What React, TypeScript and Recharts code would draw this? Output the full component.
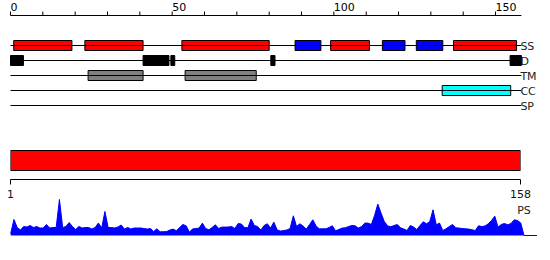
import React from "react";
import { ComposedChart, BarChart, Bar, AreaChart, Area, Scatter, XAxis, YAxis, ReferenceLine, ReferenceArea } from "recharts";

// sequence + feature tracks
const seqLength = 158;
const trackNames = ["SS", "D", "TM", "CC", "SP"];
const trackRows = [2, 3, 4, 5, 6];

const helixSegments = [[1, 19], [23, 41], [53, 80], [99, 111], [137, 156.5]];
const strandSegments = [[88, 96], [115, 122], [125.5, 133.7]];
const disorderSegments = [[0, 4], [41, 49], [49.6, 50.8], [80.5, 81.8], [154.5, 158]];
const tmSegments = [[24, 41], [54, 76]];
const ccSegments = [[133.5, 154.7]];

const topTicks = [0, 10, 20, 30, 40, 50, 60, 70, 80, 90, 100, 110, 120, 130, 140, 150];
const topLabels = [0, 50, 100, 150];
const seqTicks = [1, 158];

// PS profile, one value per residue
const psValues = [
  2, 16, 8, 5.5, 9, 8.5, 10, 8, 9, 7.5,
  7.5, 11, 7.5, 8, 8, 36, 8, 9, 13, 9,
  6, 9, 7.5, 8, 8, 6.5, 8, 12.5, 7.5, 24,
  8, 8, 7.5, 8.5, 10.5, 6.5, 8, 6.5, 7.5, 7.5,
  7.5, 7, 6.4, 7, 4, 6.7, 3.7, 3.8, 4, 5.5,
  6.4, 4.7, 8, 11, 9.7, 3.4, 6.5, 7, 7.4, 12.4,
  7, 5.7, 8, 10.7, 7, 8.4, 8.4, 8.5, 9, 7,
  12, 11.5, 8, 7.7, 16.4, 10, 9, 5.4, 10, 11.7,
  7.4, 13.4, 5.7, 4.4, 5, 5.5, 7, 19.7, 9, 11.7,
  9.5, 6.4, 11, 15.7, 9.5, 6.7, 6.7, 6.7, 8, 9.7,
  4.7, 6, 7.4, 7.7, 9, 10, 9.7, 7.4, 9, 12.4,
  12.4, 11, 20, 31.4, 22.4, 14, 9.7, 8.7, 10, 11,
  7.7, 6.5, 5, 10, 8.5, 6, 10, 13.7, 11.7, 14,
  25.7, 10.7, 12.4, 5, 6.7, 9, 11, 7.7, 7.4, 7,
  6.7, 6.4, 5.7, 5, 9.7, 9, 9.5, 11.7, 15, 19.4,
  8.4, 11, 12, 10.7, 12, 15.7, 15, 12.5,
];
const psTail = [159, 163];

const tracks = [
  { row: 2, segs: helixSegments, color: "#ff0000" },
  { row: 2, segs: strandSegments, color: "#0000ff" },
  { row: 3, segs: disorderSegments, color: "#000000" },
  { row: 4, segs: tmSegments, color: "#808080" },
  { row: 5, segs: ccSegments, color: "#00ffff" },
];

const font = "'DejaVu Sans', sans-serif";

const TopTick = (props: any) => {
  const { x, y, payload } = props;
  if (!topLabels.includes(payload.value)) return <g />;
  return (
    <text x={x} y={y} fill="#000" fontSize={11} fontFamily={font} textAnchor="start">
      {payload.value}
    </text>
  );
};

const TrackTick = (props: any) => {
  const { x, y, payload } = props;
  const idx = trackRows.indexOf(payload.value);
  return (
    <text x={x - 1} y={y} dy={4} fill="#222" fontSize={11} fontFamily={font} textAnchor="start">
      {trackNames[idx]}
    </text>
  );
};

export default function App() {
  const rowData = trackNames.map((n, i) => ({ name: n, x: 0, row: trackRows[i] }));
  const seqData = [{ name: "seq", span: [1, seqLength] }];
  const psData = psValues
    .map((v, i) => ({ pos: i + 1, ps: v }))
    .concat(psTail.map((p) => ({ pos: p, ps: 0 })));

  return (
    <div style={{ position: "absolute", left: 0, top: 0, width: 550, height: 260, background: "#fff", fontFamily: font }}>
      <div style={{ position: "absolute", left: 0, top: 0 }}>
        <ComposedChart width={550} height={121} data={rowData} margin={{ top: 0.5, right: 0, left: 10.5, bottom: 0.5 }}>
          <XAxis
            orientation="top"
            type="number"
            dataKey="x"
            domain={[0, seqLength]}
            ticks={topTicks}
            interval={0}
            allowDataOverflow
            height={15}
            tickSize={4}
            tickMargin={1}
            stroke="#000"
            tick={<TopTick />}
          />
          <YAxis
            orientation="right"
            type="number"
            dataKey="row"
            domain={[0, 7]}
            allowDataOverflow
            reversed
            ticks={trackRows}
            interval={0}
            width={28.6}
            axisLine={false}
            tickLine={false}
            tickSize={0}
            tickMargin={0}
            tick={<TrackTick />}
          />
          <Scatter dataKey="row" fill="none" shape={() => <g />} isAnimationActive={false} />
          {trackRows.map((r) => (
            <ReferenceLine key={"l" + r} y={r} stroke="#000" strokeWidth={1} ifOverflow="visible" />
          ))}
          {tracks.map((t, ti) =>
            t.segs.map((s, si) => (
              <ReferenceArea
                key={ti + "-" + si}
                x1={s[0]}
                x2={s[1]}
                y1={t.row - 1 / 3}
                y2={t.row + 1 / 3}
                fill={t.color}
                fillOpacity={1}
                stroke="#000"
                strokeWidth={1}
                strokeOpacity={1}
                ifOverflow="visible"
              />
            ))
          )}
        </ComposedChart>
      </div>

      <div style={{ position: "absolute", left: 0, top: 139 }}>
        <BarChart width={550} height={70} data={seqData} layout="vertical" margin={{ top: 2.5, right: 29.5, left: 10.5, bottom: 0 }}>
          <XAxis
            type="number"
            domain={[1, seqLength]}
            ticks={seqTicks}
            interval={0}
            allowDataOverflow
            height={29.5}
            tickSize={5}
            tickMargin={6}
            stroke="#000"
            tick={{ fill: "#111", fontSize: 11, fontFamily: font }}
          />
          <YAxis type="category" dataKey="name" hide />
          <Bar dataKey="span" fill="#ff0000" stroke="#000" strokeWidth={1} barSize={20} isAnimationActive={false} />
        </BarChart>
      </div>

      <div style={{ position: "absolute", left: 0, top: 194 }}>
        <AreaChart width={550} height={42} data={psData} margin={{ top: 0, right: 13, left: 10.7, bottom: 0.5 }}>
          <XAxis type="number" dataKey="pos" domain={[1, 163]} hide />
          <YAxis type="number" domain={[0, 41.5]} hide />
          <Area
            type="linear"
            dataKey="ps"
            stroke="#0000ff"
            strokeWidth={1}
            fill="#0000ff"
            fillOpacity={1}
            dot={false}
            activeDot={false}
            isAnimationActive={false}
          />
        </AreaChart>
      </div>

      <svg style={{ position: "absolute", left: 0, top: 0 }} width={550} height={260} pointerEvents="none">
        <text x={524} y={213.5} textAnchor="middle" fontSize={11} fontFamily={font} fill="#222">
          PS
        </text>
      </svg>
    </div>
  );
}
